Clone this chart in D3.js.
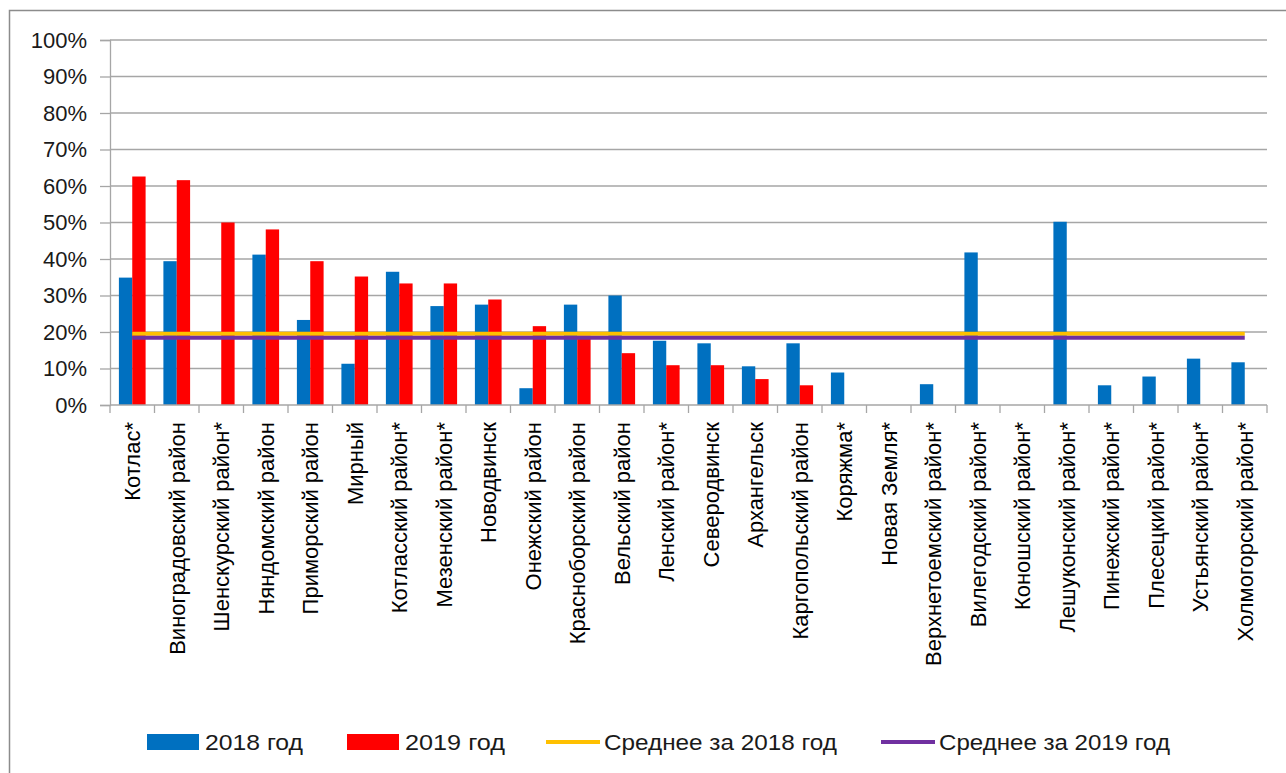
<!DOCTYPE html>
<html>
<head>
<meta charset="utf-8">
<script src="https://cdn.jsdelivr.net/npm/d3@7"></script>
<style>
  body { margin: 0; background: #fff; }
  svg { display: block; font-family: "Liberation Sans", Arial, sans-serif; }
</style>
</head>
<body>
<svg width="1286" height="773"></svg>
<script>
// районы
var categories = ["Котлас*", "Виноградовский район", "Шенскурский район*", "Няндомский район",
    "Приморский район", "Мирный", "Котласский район*", "Мезенский район*", "Новодвинск",
    "Онежский район", "Красноборский район", "Вельский район", "Ленский район*", "Северодвинск",
    "Архангельск", "Каргопольский район", "Коряжма*", "Новая Земля*", "Верхнетоемский район*",
    "Вилегодский район*", "Коношский район*", "Лешуконский район*", "Пинежский район*",
    "Плесецкий район*", "Устьянский район*", "Холмогорский район*"];

var values2018 = [0.349, 0.394, 0, 0.412, 0.233, 0.113, 0.365, 0.271, 0.275, 0.046, 0.275, 0.300,
    0.176, 0.169, 0.106, 0.169, 0.089, 0, 0.057, 0.418, 0, 0.502, 0.054, 0.078, 0.127, 0.117];

var values2019 = [0.626, 0.616, 0.500, 0.481, 0.394, 0.352, 0.333, 0.333, 0.289, 0.216, 0.190, 0.142,
    0.109, 0.109, 0.071, 0.054, 0, 0, 0, 0, 0, 0, 0, 0, 0, 0];

var avg2018 = 0.195;
var avg2019 = 0.184;

var yTicks = [0, 0.1, 0.2, 0.3, 0.4, 0.5, 0.6, 0.7, 0.8, 0.9, 1];

var legendItems = [
    { label: "2018 год", color: "#0070c0", kind: "bar" },
    { label: "2019 год", color: "#ff0000", kind: "bar" },
    { label: "Среднее за 2018 год", color: "#ffc000", kind: "line" },
    { label: "Среднее за 2019 год", color: "#7030a0", kind: "line" }
];

var svg = d3.select("svg");

// рамка диаграммы
svg.append("rect")
    .attr("x", 9.5).attr("y", 10.5)
    .attr("width", 1300).attr("height", 800)
    .attr("fill", "none")
    .attr("stroke", "#8c8c8c")
    .attr("stroke-width", 1.5);

var plotLeft = 110, plotRight = 1267, plotTop = 40, plotBottom = 405;

var x = d3.scaleBand().domain(categories).range([plotLeft, plotRight]);
var sub = d3.scaleBand().domain(["2018", "2019"]).range([0, x.bandwidth() * 0.6]);
var offset = (x.bandwidth() - x.bandwidth() * 0.6) / 2;
var y = d3.scaleLinear().domain([0, 1]).range([plotBottom, plotTop]);

// сетка
svg.append("g")
    .selectAll("line")
    .data(yTicks.slice(1))
    .enter().append("line")
    .attr("x1", plotLeft).attr("x2", plotRight)
    .attr("y1", function(d) { return y(d); })
    .attr("y2", function(d) { return y(d); })
    .attr("stroke", "#a6a6a6")
    .attr("stroke-width", 1.3);

// ось Y
var yAxis = svg.append("g")
    .attr("transform", "translate(" + plotLeft + ",0)")
    .call(d3.axisLeft(y).tickValues(yTicks).tickFormat(d3.format(".0%")).tickSize(10).tickPadding(13));
yAxis.select(".domain").attr("stroke", "#a6a6a6").attr("stroke-width", 1.3);
yAxis.selectAll(".tick line").attr("stroke", "#a6a6a6").attr("stroke-width", 1.3);
yAxis.selectAll("text")
    .attr("font-size", 22)
    .attr("font-family", "Liberation Sans, Arial, sans-serif")
    .attr("fill", "#1a1a1a");

// столбцы
var groups = svg.append("g")
    .selectAll("g")
    .data(categories)
    .enter().append("g")
    .attr("transform", function(d) { return "translate(" + (x(d) + offset) + ",0)"; });

groups.append("rect")
    .attr("x", sub("2018"))
    .attr("width", sub.bandwidth())
    .attr("y", function(d, i) { return y(values2018[i]); })
    .attr("height", function(d, i) { return y(0) - y(values2018[i]); })
    .attr("fill", "#0070c0");

groups.append("rect")
    .attr("x", sub("2019"))
    .attr("width", sub.bandwidth())
    .attr("y", function(d, i) { return y(values2019[i]); })
    .attr("height", function(d, i) { return y(0) - y(values2019[i]); })
    .attr("fill", "#ff0000");

// ось X
var xAxisG = svg.append("g");
xAxisG.append("line")
    .attr("x1", plotLeft).attr("x2", plotRight)
    .attr("y1", plotBottom).attr("y2", plotBottom)
    .attr("stroke", "#a6a6a6").attr("stroke-width", 1.3);

var bounds = categories.map(function(d) { return x(d); }).concat([plotRight]);
xAxisG.selectAll(".xt")
    .data(bounds)
    .enter().append("line")
    .attr("class", "xt")
    .attr("x1", function(d) { return d; })
    .attr("x2", function(d) { return d; })
    .attr("y1", plotBottom).attr("y2", plotBottom + 8)
    .attr("stroke", "#a6a6a6").attr("stroke-width", 1.3);

xAxisG.selectAll(".xl")
    .data(categories)
    .enter().append("text")
    .attr("class", "xl")
    .attr("transform", function(d) {
        return "translate(" + (x(d) + x.bandwidth() / 2) + "," + (plotBottom + 17) + ") rotate(-90)";
    })
    .attr("text-anchor", "end")
    .attr("dy", "0.36em")
    .attr("font-size", 22)
    .attr("fill", "#000")
    .text(function(d) { return d; });

// средние
var avgLine = d3.line()
    .x(function(d) { return x(d) + x.bandwidth() / 2; });

svg.append("path")
    .datum(categories)
    .attr("d", avgLine.y(function() { return y(avg2018); }))
    .attr("fill", "none")
    .attr("stroke", "#ffc000")
    .attr("stroke-width", 4);

svg.append("path")
    .datum(categories)
    .attr("d", avgLine.y(function() { return y(avg2019); }))
    .attr("fill", "none")
    .attr("stroke", "#7030a0")
    .attr("stroke-width", 4);

// легенда
var legendX = [147, 347, 546, 881];
var legendW = [98, 100, 233, 231];
var legend = svg.append("g");
legendItems.forEach(function(item, i) {
    var g = legend.append("g").attr("transform", "translate(" + legendX[i] + ",742)");
    if (item.kind === "bar") {
        g.append("rect").attr("x", 0).attr("y", -8).attr("width", 52).attr("height", 16).attr("fill", item.color);
    } else {
        g.append("line").attr("x1", 0).attr("x2", 54).attr("y1", 0).attr("y2", 0)
            .attr("stroke", item.color).attr("stroke-width", 4);
    }
    g.append("text")
        .attr("x", item.kind === "bar" ? 58 : 58)
        .attr("dy", "0.36em")
        .attr("font-size", 22)
        .attr("textLength", legendW[i])
        .attr("lengthAdjust", "spacingAndGlyphs")
        .attr("fill", "#1a1a1a")
        .text(item.label);
});
</script>
</body>
</html>
